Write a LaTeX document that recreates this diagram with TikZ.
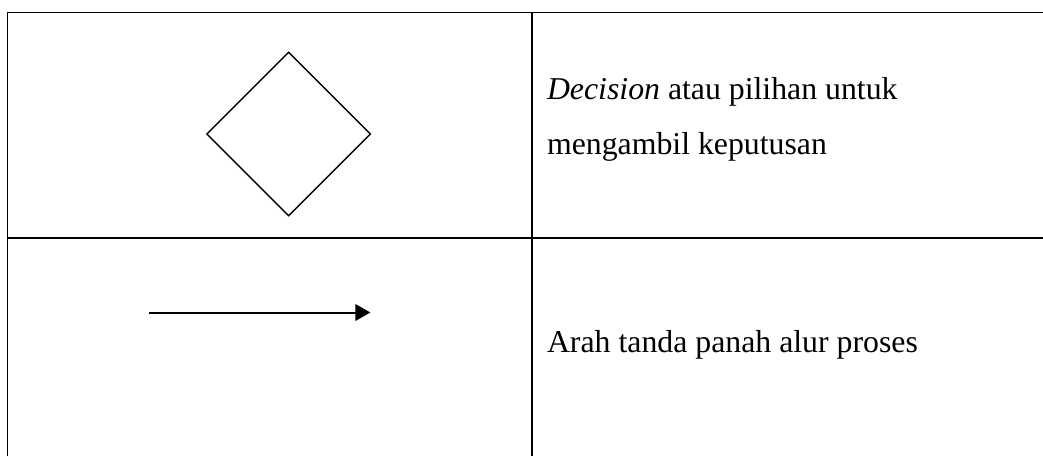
\documentclass[tikz,border=0pt]{standalone}
\usepackage{fontspec}
\setmainfont{Liberation Serif}
\usetikzlibrary{arrows.meta,positioning,shapes.geometric}

\tikzset{
	tableline/.style={line width=0.75pt},
	symbol/.style={draw, line width=0.5pt, inner sep=0pt},
	desc/.style={anchor=base west, inner sep=0pt, align=left, font=\fontsize{12}{20.8}\selectfont},
}

\begin{document}
\begin{tikzpicture}[x=0.3774pt, y=-0.3774pt]
		\useasboundingbox (0,0) rectangle (1043,456);

		% table grid
		\coordinate		(topleft)		at	(7.5,12.5);
		\coordinate		(topright)		at	(1043,12.5);
		\coordinate		(topmid)		at	(532,12.5);
		\coordinate		(botleft)		at	(7.5,456);
		\coordinate		(botmid)		at	(532,456);
		\coordinate		(midleft)		at	(7.5,238);
		\coordinate		(midright)		at	(1043,238);
		\draw[tableline] (botleft) -- (topleft) -- (topright);
		\draw[tableline] (topmid) -- (botmid);
		\draw[tableline] (midleft) -- (midright);

		% symbols
		\node[symbol, diamond, minimum width=61.9pt, minimum height=61.9pt]	(decision)	at	(288.6,134)	{};
		\coordinate		(flowstart)		at	(149,312.5);
		\coordinate		(flowend)		at	(370.5,312.5);
		\draw[line width=0.75pt, -{Triangle[length=5.7pt, width=6.2pt]}] (flowstart) -- (flowend);

		% descriptions
		\node[desc]		(decisiontext)	at	(546.5,154.5)	{\textit{Decision} atau pilihan untuk\\mengambil keputusan};
		\node[desc]		(flowtext)		at	(546.5,352)	{Arah tanda panah alur proses};
	\end{tikzpicture}
\end{document}
